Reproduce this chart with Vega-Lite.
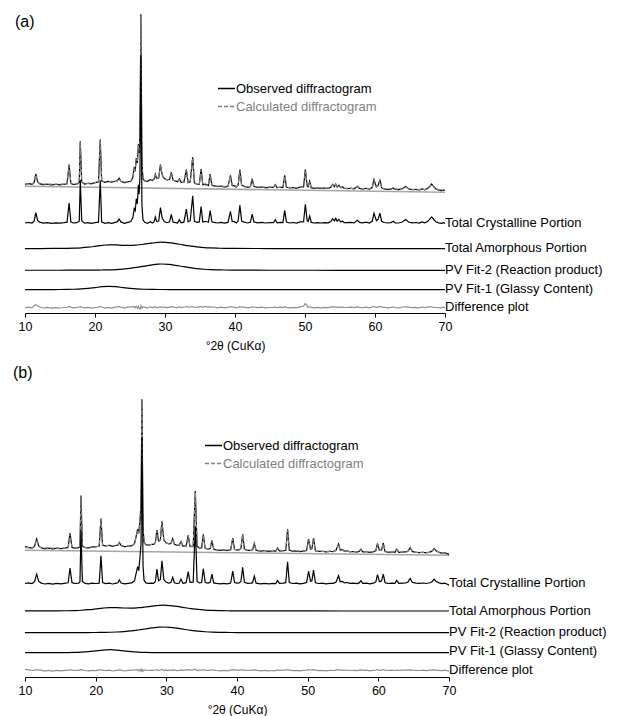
{
"$schema": "https://vega.github.io/schema/vega-lite/v6.json",
"padding": {"left": 13, "top": 11, "right": 0, "bottom": 0},
"config": {
 "font": "Liberation Sans",
 "view": {"stroke": null},
 "axisX": {"tickSize": 4, "labelPadding": 3, "titlePadding": 8, "labelFlush": false, "labelOverlap": false, "labelFontSize": 12.5, "titleFontSize": 12, "titleFontWeight": "normal", "domainColor": "#000000", "tickColor": "#000000", "labelColor": "#000000", "titleColor": "#000000", "grid": false, "labelFont": "Liberation Sans", "titleFont": "Liberation Sans"},
 "title": {"fontSize": 16, "fontWeight": "normal", "color": "#000000", "font": "Liberation Sans"}
},
"spacing": 13,
"resolve": {"scale": {"color": "independent", "strokeDash": "independent"}, "legend": {"color": "independent", "strokeDash": "independent"}},
"datasets": {
 "a_main": [
{"t":10.0,"obs":128.7,"calc":129.2,"cryst":90.0,"diff":5.2},
{"t":10.5,"obs":129.4,"calc":129.2,"cryst":90.7,"diff":5.9},
{"t":11.0,"obs":128.6,"calc":129.1,"cryst":90.0,"diff":5.2},
{"t":11.3,"obs":130.5,"calc":130.3,"cryst":91.9,"diff":7.5},
{"t":11.55,"obs":139.0,"calc":138.0,"cryst":100.4,"diff":8.4},
{"t":11.8,"obs":131.2,"calc":131.0,"cryst":92.6,"diff":6.9},
{"t":12.1,"obs":129.3,"calc":129.0,"cryst":90.8,"diff":6.0},
{"t":12.6,"obs":128.3,"calc":129.0,"cryst":89.8,"diff":5.0},
{"t":13.2,"obs":128.8,"calc":128.9,"cryst":90.4,"diff":5.6},
{"t":13.8,"obs":128.1,"calc":128.9,"cryst":89.7,"diff":4.9},
{"t":14.4,"obs":128.6,"calc":128.9,"cryst":90.2,"diff":5.4},
{"t":15.0,"obs":128.2,"calc":128.9,"cryst":89.8,"diff":5.0},
{"t":15.6,"obs":128.7,"calc":128.9,"cryst":90.3,"diff":5.5},
{"t":16.0,"obs":129.2,"calc":129.2,"cryst":90.8,"diff":5.7},
{"t":16.3,"obs":148.4,"calc":147.6,"cryst":110.0,"diff":6.5},
{"t":16.55,"obs":129.6,"calc":129.4,"cryst":91.2,"diff":5.9},
{"t":16.9,"obs":128.5,"calc":129.0,"cryst":90.0,"diff":5.2},
{"t":17.4,"obs":128.9,"calc":129.0,"cryst":90.3,"diff":5.6},
{"t":17.75,"obs":130.5,"calc":130.2,"cryst":91.8,"diff":6.0},
{"t":17.9,"obs":171.7,"calc":171.0,"cryst":133.0,"diff":6.4},
{"t":18.1,"obs":131.0,"calc":130.8,"cryst":92.2,"diff":5.9},
{"t":18.5,"obs":128.9,"calc":129.5,"cryst":89.9,"diff":5.1},
{"t":19.0,"obs":129.6,"calc":129.7,"cryst":90.4,"diff":5.6},
{"t":19.5,"obs":129.2,"calc":130.1,"cryst":89.6,"diff":4.8},
{"t":20.0,"obs":130.3,"calc":130.5,"cryst":90.3,"diff":5.5},
{"t":20.5,"obs":131.2,"calc":131.0,"cryst":90.8,"diff":5.9},
{"t":20.75,"obs":173.4,"calc":172.6,"cryst":132.8,"diff":6.5},
{"t":20.95,"obs":132.0,"calc":131.7,"cryst":91.2,"diff":6.0},
{"t":21.4,"obs":130.7,"calc":131.5,"cryst":89.7,"diff":4.9},
{"t":21.9,"obs":131.6,"calc":131.7,"cryst":90.4,"diff":5.6},
{"t":22.4,"obs":130.9,"calc":131.7,"cryst":89.7,"diff":4.9},
{"t":22.9,"obs":131.8,"calc":131.6,"cryst":90.7,"diff":5.9},
{"t":23.2,"obs":132.3,"calc":131.9,"cryst":91.3,"diff":6.1},
{"t":23.45,"obs":134.8,"calc":134.2,"cryst":93.9,"diff":6.3},
{"t":23.7,"obs":131.9,"calc":131.6,"cryst":91.1,"diff":6.0},
{"t":24.2,"obs":130.3,"calc":131.1,"cryst":89.7,"diff":4.9},
{"t":24.7,"obs":131.1,"calc":130.9,"cryst":90.7,"diff":5.9},
{"t":25.1,"obs":131.8,"calc":131.3,"cryst":91.4,"diff":6.2},
{"t":25.4,"obs":135.5,"calc":135.0,"cryst":95.0,"diff":6.2},
{"t":25.6,"obs":145.0,"calc":144.0,"cryst":104.4,"diff":6.7},
{"t":25.75,"obs":143.0,"calc":143.5,"cryst":102.4,"diff":5.2},
{"t":25.9,"obs":155.0,"calc":154.0,"cryst":114.3,"diff":6.7},
{"t":26.05,"obs":150.0,"calc":151.0,"cryst":109.2,"diff":4.7},
{"t":26.2,"obs":169.0,"calc":168.0,"cryst":128.1,"diff":6.7},
{"t":26.3,"obs":160.0,"calc":161.0,"cryst":119.1,"diff":4.7},
{"t":26.42,"obs":178.0,"calc":180.0,"cryst":137.0,"diff":3.7},
{"t":26.56,"obs":298.7,"calc":297.0,"cryst":257.6,"diff":7.4},
{"t":26.7,"obs":150.0,"calc":151.0,"cryst":108.8,"diff":4.7},
{"t":26.85,"obs":134.5,"calc":134.0,"cryst":93.2,"diff":6.2},
{"t":27.1,"obs":132.2,"calc":132.0,"cryst":90.7,"diff":5.9},
{"t":27.5,"obs":131.5,"calc":132.3,"cryst":89.6,"diff":4.9},
{"t":27.9,"obs":133.5,"calc":132.9,"cryst":91.3,"diff":6.3},
{"t":28.2,"obs":132.4,"calc":133.0,"cryst":89.9,"diff":5.1},
{"t":28.45,"obs":134.0,"calc":133.8,"cryst":91.3,"diff":5.9},
{"t":28.62,"obs":138.7,"calc":138.0,"cryst":95.9,"diff":6.4},
{"t":28.8,"obs":134.5,"calc":134.6,"cryst":91.6,"diff":5.6},
{"t":29.1,"obs":135.0,"calc":135.3,"cryst":92.0,"diff":5.4},
{"t":29.35,"obs":148.4,"calc":147.8,"cryst":105.3,"diff":6.3},
{"t":29.6,"obs":138.0,"calc":138.4,"cryst":94.9,"diff":5.3},
{"t":29.9,"obs":134.5,"calc":134.3,"cryst":91.5,"diff":5.9},
{"t":30.3,"obs":133.0,"calc":133.3,"cryst":90.3,"diff":5.4},
{"t":30.65,"obs":133.6,"calc":133.5,"cryst":91.1,"diff":5.8},
{"t":30.9,"obs":140.7,"calc":140.0,"cryst":98.5,"diff":6.4},
{"t":31.15,"obs":132.8,"calc":132.6,"cryst":90.9,"diff":5.9},
{"t":31.5,"obs":132.0,"calc":132.1,"cryst":90.4,"diff":5.6},
{"t":31.8,"obs":131.2,"calc":131.7,"cryst":90.0,"diff":5.2},
{"t":32.05,"obs":134.0,"calc":133.5,"cryst":93.2,"diff":6.2},
{"t":32.3,"obs":130.6,"calc":131.0,"cryst":90.1,"diff":5.3},
{"t":32.7,"obs":130.8,"calc":130.5,"cryst":90.8,"diff":6.0},
{"t":33.05,"obs":143.4,"calc":142.6,"cryst":103.8,"diff":6.5},
{"t":33.3,"obs":130.4,"calc":130.2,"cryst":91.1,"diff":5.9},
{"t":33.6,"obs":131.2,"calc":130.9,"cryst":92.3,"diff":6.0},
{"t":33.96,"obs":155.7,"calc":154.8,"cryst":117.2,"diff":6.6},
{"t":34.2,"obs":130.0,"calc":130.2,"cryst":91.7,"diff":5.5},
{"t":34.6,"obs":128.6,"calc":128.5,"cryst":90.7,"diff":5.8},
{"t":34.9,"obs":128.8,"calc":128.6,"cryst":91.1,"diff":5.9},
{"t":35.16,"obs":144.0,"calc":143.2,"cryst":106.5,"diff":6.5},
{"t":35.4,"obs":128.3,"calc":128.4,"cryst":91.0,"diff":5.6},
{"t":35.8,"obs":128.8,"calc":128.0,"cryst":91.7,"diff":6.5},
{"t":36.2,"obs":127.5,"calc":127.6,"cryst":90.7,"diff":5.6},
{"t":36.45,"obs":139.0,"calc":138.4,"cryst":102.3,"diff":6.3},
{"t":36.7,"obs":127.8,"calc":127.5,"cryst":91.2,"diff":6.0},
{"t":37.0,"obs":127.2,"calc":127.1,"cryst":90.7,"diff":5.8},
{"t":37.5,"obs":126.4,"calc":126.9,"cryst":90.0,"diff":5.2},
{"t":38.0,"obs":126.9,"calc":126.8,"cryst":90.7,"diff":5.8},
{"t":38.5,"obs":126.0,"calc":126.6,"cryst":89.9,"diff":5.1},
{"t":39.0,"obs":126.6,"calc":126.6,"cryst":90.6,"diff":5.7},
{"t":39.35,"obs":137.7,"calc":137.0,"cryst":101.7,"diff":6.4},
{"t":39.6,"obs":127.5,"calc":127.3,"cryst":91.5,"diff":5.9},
{"t":39.9,"obs":127.2,"calc":127.0,"cryst":91.3,"diff":5.9},
{"t":40.2,"obs":126.0,"calc":126.5,"cryst":90.1,"diff":5.2},
{"t":40.45,"obs":128.0,"calc":128.0,"cryst":92.2,"diff":5.7},
{"t":40.7,"obs":143.4,"calc":142.7,"cryst":107.6,"diff":6.4},
{"t":40.95,"obs":127.8,"calc":127.7,"cryst":92.0,"diff":5.8},
{"t":41.3,"obs":126.6,"calc":126.4,"cryst":90.9,"diff":5.9},
{"t":41.8,"obs":125.7,"calc":126.2,"cryst":90.0,"diff":5.2},
{"t":42.2,"obs":126.3,"calc":126.3,"cryst":90.7,"diff":5.7},
{"t":42.45,"obs":134.4,"calc":133.9,"cryst":98.8,"diff":6.2},
{"t":42.7,"obs":126.6,"calc":126.3,"cryst":91.1,"diff":6.0},
{"t":43.2,"obs":125.6,"calc":126.0,"cryst":90.1,"diff":5.3},
{"t":43.8,"obs":126.0,"calc":125.9,"cryst":90.6,"diff":5.8},
{"t":44.4,"obs":125.3,"calc":125.8,"cryst":90.0,"diff":5.2},
{"t":45.0,"obs":125.6,"calc":125.8,"cryst":90.3,"diff":5.5},
{"t":45.5,"obs":125.5,"calc":125.7,"cryst":90.3,"diff":5.5},
{"t":45.75,"obs":128.4,"calc":128.0,"cryst":93.2,"diff":6.1},
{"t":46.0,"obs":125.3,"calc":125.7,"cryst":90.1,"diff":5.3},
{"t":46.5,"obs":125.8,"calc":125.6,"cryst":90.7,"diff":5.9},
{"t":46.85,"obs":125.6,"calc":125.9,"cryst":90.5,"diff":5.4},
{"t":47.1,"obs":137.7,"calc":137.0,"cryst":102.7,"diff":6.4},
{"t":47.35,"obs":125.9,"calc":125.9,"cryst":90.9,"diff":5.7},
{"t":47.8,"obs":125.0,"calc":125.5,"cryst":90.0,"diff":5.2},
{"t":48.3,"obs":125.4,"calc":125.4,"cryst":90.5,"diff":5.7},
{"t":48.8,"obs":124.8,"calc":125.4,"cryst":89.9,"diff":5.1},
{"t":49.3,"obs":125.9,"calc":125.5,"cryst":91.1,"diff":6.1},
{"t":49.8,"obs":126.2,"calc":126.0,"cryst":91.4,"diff":7.0},
{"t":50.05,"obs":143.4,"calc":141.6,"cryst":108.7,"diff":9.5},
{"t":50.3,"obs":127.5,"calc":127.0,"cryst":92.8,"diff":7.5},
{"t":50.45,"obs":126.2,"calc":126.4,"cryst":91.5,"diff":5.5},
{"t":50.67,"obs":131.7,"calc":131.0,"cryst":97.0,"diff":6.4},
{"t":50.9,"obs":125.2,"calc":125.3,"cryst":90.6,"diff":5.6},
{"t":51.3,"obs":124.6,"calc":125.1,"cryst":90.0,"diff":5.2},
{"t":51.8,"obs":125.0,"calc":125.0,"cryst":90.4,"diff":5.7},
{"t":52.3,"obs":124.5,"calc":125.0,"cryst":90.0,"diff":5.2},
{"t":52.8,"obs":124.9,"calc":124.9,"cryst":90.4,"diff":5.7},
{"t":53.3,"obs":124.5,"calc":124.9,"cryst":90.1,"diff":5.3},
{"t":53.7,"obs":125.8,"calc":125.6,"cryst":91.4,"diff":5.9},
{"t":53.95,"obs":128.6,"calc":128.0,"cryst":94.3,"diff":6.3},
{"t":54.2,"obs":126.4,"calc":126.5,"cryst":92.1,"diff":5.6},
{"t":54.4,"obs":128.9,"calc":128.4,"cryst":94.6,"diff":6.2},
{"t":54.6,"obs":126.0,"calc":126.3,"cryst":91.7,"diff":5.4},
{"t":54.85,"obs":127.8,"calc":127.4,"cryst":93.6,"diff":6.1},
{"t":55.1,"obs":125.2,"calc":125.5,"cryst":91.0,"diff":5.4},
{"t":55.35,"obs":126.2,"calc":125.8,"cryst":92.0,"diff":6.1},
{"t":55.6,"obs":124.6,"calc":124.8,"cryst":90.4,"diff":5.5},
{"t":56.0,"obs":124.4,"calc":124.6,"cryst":90.3,"diff":5.5},
{"t":56.5,"obs":124.7,"calc":124.6,"cryst":90.6,"diff":5.8},
{"t":57.0,"obs":124.1,"calc":124.5,"cryst":90.1,"diff":5.3},
{"t":57.5,"obs":126.7,"calc":126.3,"cryst":92.7,"diff":6.1},
{"t":57.8,"obs":124.5,"calc":124.5,"cryst":90.6,"diff":5.7},
{"t":58.2,"obs":124.0,"calc":124.4,"cryst":90.1,"diff":5.3},
{"t":58.7,"obs":124.6,"calc":124.4,"cryst":90.8,"diff":5.9},
{"t":59.2,"obs":123.8,"calc":124.3,"cryst":90.0,"diff":5.2},
{"t":59.6,"obs":125.5,"calc":125.3,"cryst":91.7,"diff":5.9},
{"t":59.85,"obs":133.4,"calc":132.4,"cryst":99.7,"diff":6.7},
{"t":60.2,"obs":126.0,"calc":126.2,"cryst":92.3,"diff":5.5},
{"t":60.45,"obs":127.6,"calc":127.2,"cryst":93.9,"diff":6.1},
{"t":60.7,"obs":133.4,"calc":132.6,"cryst":99.8,"diff":6.5},
{"t":60.95,"obs":125.2,"calc":125.1,"cryst":91.6,"diff":5.8},
{"t":61.3,"obs":124.1,"calc":124.1,"cryst":90.5,"diff":5.7},
{"t":61.8,"obs":123.5,"calc":124.0,"cryst":90.0,"diff":5.2},
{"t":62.3,"obs":123.9,"calc":124.0,"cryst":90.4,"diff":5.6},
{"t":62.6,"obs":125.1,"calc":124.8,"cryst":91.7,"diff":6.0},
{"t":62.9,"obs":123.6,"calc":123.9,"cryst":90.2,"diff":5.4},
{"t":63.4,"obs":123.4,"calc":123.9,"cryst":90.0,"diff":5.2},
{"t":63.9,"obs":124.3,"calc":124.0,"cryst":91.0,"diff":6.0},
{"t":64.4,"obs":126.7,"calc":126.2,"cryst":93.4,"diff":6.2},
{"t":64.8,"obs":124.2,"calc":124.1,"cryst":91.0,"diff":5.8},
{"t":65.3,"obs":123.3,"calc":123.7,"cryst":90.1,"diff":5.3},
{"t":65.8,"obs":123.6,"calc":123.6,"cryst":90.5,"diff":5.7},
{"t":66.3,"obs":123.0,"calc":123.5,"cryst":89.9,"diff":5.2},
{"t":66.7,"obs":124.0,"calc":123.7,"cryst":91.0,"diff":6.0},
{"t":67.1,"obs":123.2,"calc":123.5,"cryst":90.2,"diff":5.4},
{"t":67.5,"obs":124.5,"calc":124.3,"cryst":91.5,"diff":5.9},
{"t":67.8,"obs":126.5,"calc":126.0,"cryst":93.6,"diff":6.2},
{"t":68.1,"obs":129.0,"calc":128.6,"cryst":96.1,"diff":6.1},
{"t":68.4,"obs":126.4,"calc":126.6,"cryst":93.5,"diff":5.5},
{"t":68.7,"obs":124.0,"calc":124.2,"cryst":91.2,"diff":5.5},
{"t":69.1,"obs":123.0,"calc":123.3,"cryst":90.2,"diff":5.4},
{"t":69.5,"obs":122.4,"calc":123.0,"cryst":89.6,"diff":5.1},
{"t":69.8,"obs":123.1,"calc":123.0,"cryst":90.4,"diff":5.8},
{"t":70.0,"obs":122.3,"calc":122.8,"cryst":89.6,"diff":5.2}
 ],
 "b_main": [
{"t":10.0,"obs":130.5,"calc":129.5,"cryst":93.5,"diff":7.7},
{"t":10.5,"obs":129.6,"calc":129.2,"cryst":94.2,"diff":7.1},
{"t":11.0,"obs":128.9,"calc":129.1,"cryst":93.5,"diff":6.5},
{"t":11.35,"obs":130.6,"calc":130.4,"cryst":95.3,"diff":6.9},
{"t":11.65,"obs":138.1,"calc":137.4,"cryst":102.8,"diff":7.4},
{"t":11.95,"obs":130.9,"calc":130.7,"cryst":95.6,"diff":6.9},
{"t":12.3,"obs":129.2,"calc":129.0,"cryst":93.9,"diff":6.9},
{"t":12.8,"obs":128.2,"calc":129.0,"cryst":93.0,"diff":5.9},
{"t":13.3,"obs":128.9,"calc":129.0,"cryst":93.7,"diff":6.6},
{"t":13.9,"obs":128.1,"calc":129.0,"cryst":92.9,"diff":5.8},
{"t":14.5,"obs":128.8,"calc":128.9,"cryst":93.6,"diff":6.6},
{"t":15.1,"obs":128.3,"calc":128.9,"cryst":93.1,"diff":6.1},
{"t":15.7,"obs":128.9,"calc":128.9,"cryst":93.8,"diff":6.7},
{"t":16.1,"obs":129.4,"calc":129.3,"cryst":94.2,"diff":6.8},
{"t":16.37,"obs":144.0,"calc":143.3,"cryst":108.8,"diff":7.4},
{"t":16.65,"obs":129.5,"calc":129.4,"cryst":94.3,"diff":6.8},
{"t":17.1,"obs":128.8,"calc":129.0,"cryst":93.5,"diff":6.5},
{"t":17.6,"obs":129.3,"calc":129.1,"cryst":93.9,"diff":6.9},
{"t":17.78,"obs":130.7,"calc":130.5,"cryst":95.3,"diff":6.9},
{"t":17.92,"obs":181.5,"calc":180.6,"cryst":146.0,"diff":7.6},
{"t":18.12,"obs":131.0,"calc":130.8,"cryst":95.5,"diff":6.9},
{"t":18.5,"obs":129.3,"calc":129.5,"cryst":93.6,"diff":6.5},
{"t":19.0,"obs":129.1,"calc":129.7,"cryst":93.2,"diff":6.1},
{"t":19.5,"obs":130.1,"calc":130.1,"cryst":93.8,"diff":6.7},
{"t":20.0,"obs":130.1,"calc":130.4,"cryst":93.5,"diff":6.4},
{"t":20.5,"obs":130.9,"calc":130.8,"cryst":93.9,"diff":6.8},
{"t":20.75,"obs":158.5,"calc":157.8,"cryst":121.3,"diff":7.4},
{"t":20.98,"obs":131.8,"calc":131.6,"cryst":94.4,"diff":6.9},
{"t":21.4,"obs":131.0,"calc":131.4,"cryst":93.4,"diff":6.3},
{"t":21.9,"obs":131.7,"calc":131.6,"cryst":93.9,"diff":6.8},
{"t":22.4,"obs":130.8,"calc":131.5,"cryst":93.0,"diff":6.0},
{"t":22.9,"obs":131.5,"calc":131.5,"cryst":93.8,"diff":6.7},
{"t":23.15,"obs":131.8,"calc":131.6,"cryst":94.2,"diff":6.9},
{"t":23.35,"obs":134.6,"calc":134.1,"cryst":97.0,"diff":7.2},
{"t":23.6,"obs":131.5,"calc":131.3,"cryst":94.0,"diff":6.9},
{"t":24.1,"obs":130.3,"calc":131.0,"cryst":93.1,"diff":6.0},
{"t":24.6,"obs":130.8,"calc":130.9,"cryst":93.7,"diff":6.6},
{"t":25.1,"obs":131.2,"calc":131.0,"cryst":94.1,"diff":6.9},
{"t":25.5,"obs":133.5,"calc":133.2,"cryst":96.3,"diff":7.0},
{"t":25.7,"obs":140.0,"calc":139.5,"cryst":102.8,"diff":7.2},
{"t":25.94,"obs":147.6,"calc":147.0,"cryst":110.3,"diff":7.3},
{"t":26.1,"obs":143.7,"calc":144.2,"cryst":106.3,"diff":6.2},
{"t":26.3,"obs":159.8,"calc":159.0,"cryst":122.3,"diff":7.5},
{"t":26.42,"obs":170.9,"calc":172.0,"cryst":133.3,"diff":5.6},
{"t":26.55,"obs":277.8,"calc":276.5,"cryst":240.1,"diff":8.0},
{"t":26.7,"obs":149.1,"calc":150.0,"cryst":111.3,"diff":5.8},
{"t":26.85,"obs":134.7,"calc":134.4,"cryst":96.8,"diff":7.0},
{"t":27.1,"obs":132.2,"calc":132.0,"cryst":94.1,"diff":6.9},
{"t":27.5,"obs":131.9,"calc":132.1,"cryst":93.6,"diff":6.5},
{"t":27.9,"obs":132.6,"calc":132.5,"cryst":93.9,"diff":6.8},
{"t":28.2,"obs":132.6,"calc":132.7,"cryst":93.7,"diff":6.6},
{"t":28.45,"obs":134.6,"calc":134.3,"cryst":95.5,"diff":7.0},
{"t":28.67,"obs":147.0,"calc":146.3,"cryst":107.8,"diff":7.4},
{"t":28.9,"obs":135.7,"calc":135.9,"cryst":96.3,"diff":6.5},
{"t":29.15,"obs":136.8,"calc":136.5,"cryst":97.3,"diff":7.0},
{"t":29.38,"obs":155.8,"calc":155.0,"cryst":116.3,"diff":7.5},
{"t":29.65,"obs":136.9,"calc":137.2,"cryst":97.3,"diff":6.4},
{"t":29.95,"obs":134.3,"calc":134.1,"cryst":94.9,"diff":6.9},
{"t":30.35,"obs":133.1,"calc":133.2,"cryst":93.9,"diff":6.6},
{"t":30.65,"obs":133.5,"calc":133.3,"cryst":94.5,"diff":6.9},
{"t":30.9,"obs":138.3,"calc":137.8,"cryst":99.6,"diff":7.2},
{"t":31.15,"obs":132.7,"calc":132.5,"cryst":94.2,"diff":6.9},
{"t":31.5,"obs":131.7,"calc":132.0,"cryst":93.5,"diff":6.4},
{"t":31.8,"obs":131.5,"calc":131.6,"cryst":93.7,"diff":6.6},
{"t":32.07,"obs":135.4,"calc":135.0,"cryst":97.9,"diff":7.1},
{"t":32.35,"obs":130.9,"calc":131.0,"cryst":93.7,"diff":6.6},
{"t":32.8,"obs":130.9,"calc":130.5,"cryst":94.3,"diff":7.1},
{"t":33.1,"obs":141.6,"calc":141.0,"cryst":105.3,"diff":7.3},
{"t":33.35,"obs":130.6,"calc":130.4,"cryst":94.6,"diff":6.9},
{"t":33.8,"obs":130.5,"calc":130.1,"cryst":94.9,"diff":7.1},
{"t":34.1,"obs":186.0,"calc":184.8,"cryst":150.7,"diff":7.9},
{"t":34.35,"obs":130.7,"calc":130.9,"cryst":95.6,"diff":6.5},
{"t":34.7,"obs":128.9,"calc":128.8,"cryst":94.1,"diff":6.8},
{"t":35.0,"obs":129.1,"calc":128.9,"cryst":94.5,"diff":6.9},
{"t":35.23,"obs":142.7,"calc":142.1,"cryst":108.3,"diff":7.3},
{"t":35.5,"obs":128.6,"calc":128.4,"cryst":94.4,"diff":6.9},
{"t":35.9,"obs":127.9,"calc":127.9,"cryst":93.9,"diff":6.7},
{"t":36.2,"obs":128.5,"calc":128.2,"cryst":94.6,"diff":7.0},
{"t":36.45,"obs":136.6,"calc":136.1,"cryst":102.8,"diff":7.2},
{"t":36.7,"obs":127.8,"calc":127.6,"cryst":94.1,"diff":6.9},
{"t":37.1,"obs":127.2,"calc":127.4,"cryst":93.6,"diff":6.5},
{"t":37.6,"obs":126.6,"calc":127.2,"cryst":93.1,"diff":6.1},
{"t":38.1,"obs":127.1,"calc":127.1,"cryst":93.7,"diff":6.7},
{"t":38.6,"obs":126.5,"calc":127.0,"cryst":93.2,"diff":6.2},
{"t":39.1,"obs":127.1,"calc":127.0,"cryst":94.0,"diff":6.8},
{"t":39.4,"obs":138.9,"calc":138.3,"cryst":105.8,"diff":7.3},
{"t":39.65,"obs":127.6,"calc":127.4,"cryst":94.5,"diff":6.9},
{"t":40.0,"obs":127.0,"calc":126.9,"cryst":93.9,"diff":6.8},
{"t":40.3,"obs":127.1,"calc":127.0,"cryst":94.1,"diff":6.8},
{"t":40.55,"obs":128.5,"calc":128.4,"cryst":95.5,"diff":6.8},
{"t":40.8,"obs":142.6,"calc":141.9,"cryst":109.6,"diff":7.4},
{"t":41.05,"obs":127.7,"calc":127.5,"cryst":94.7,"diff":6.9},
{"t":41.5,"obs":126.5,"calc":126.7,"cryst":93.6,"diff":6.5},
{"t":42.0,"obs":126.8,"calc":126.7,"cryst":93.9,"diff":6.8},
{"t":42.2,"obs":127.1,"calc":127.0,"cryst":94.3,"diff":6.8},
{"t":42.45,"obs":133.6,"calc":133.1,"cryst":100.8,"diff":7.2},
{"t":42.7,"obs":126.7,"calc":126.6,"cryst":93.9,"diff":6.8},
{"t":43.3,"obs":125.9,"calc":126.5,"cryst":93.2,"diff":6.1},
{"t":43.9,"obs":126.3,"calc":126.4,"cryst":93.7,"diff":6.6},
{"t":44.5,"obs":125.7,"calc":126.3,"cryst":93.1,"diff":6.1},
{"t":45.1,"obs":126.1,"calc":126.3,"cryst":93.6,"diff":6.5},
{"t":45.5,"obs":125.9,"calc":126.2,"cryst":93.4,"diff":6.4},
{"t":45.74,"obs":129.0,"calc":128.6,"cryst":96.5,"diff":7.1},
{"t":46.0,"obs":126.1,"calc":126.2,"cryst":93.6,"diff":6.6},
{"t":46.5,"obs":126.3,"calc":126.2,"cryst":93.9,"diff":6.8},
{"t":46.9,"obs":126.7,"calc":126.6,"cryst":94.3,"diff":6.8},
{"t":47.16,"obs":147.7,"calc":146.8,"cryst":115.3,"diff":7.6},
{"t":47.4,"obs":126.8,"calc":126.7,"cryst":94.5,"diff":6.8},
{"t":47.9,"obs":125.8,"calc":126.1,"cryst":93.5,"diff":6.4},
{"t":48.4,"obs":126.0,"calc":126.0,"cryst":93.8,"diff":6.7},
{"t":48.9,"obs":125.4,"calc":126.0,"cryst":93.2,"diff":6.1},
{"t":49.4,"obs":125.9,"calc":125.9,"cryst":93.7,"diff":6.7},
{"t":49.85,"obs":126.6,"calc":126.4,"cryst":94.5,"diff":6.9},
{"t":50.13,"obs":137.9,"calc":137.2,"cryst":105.8,"diff":7.4},
{"t":50.4,"obs":127.9,"calc":127.6,"cryst":95.8,"diff":7.0},
{"t":50.6,"obs":128.4,"calc":128.2,"cryst":96.3,"diff":6.9},
{"t":50.83,"obs":139.0,"calc":138.3,"cryst":106.9,"diff":7.4},
{"t":51.1,"obs":126.2,"calc":126.0,"cryst":94.2,"diff":6.9},
{"t":51.6,"obs":125.5,"calc":125.8,"cryst":93.5,"diff":6.4},
{"t":52.1,"obs":125.7,"calc":125.7,"cryst":93.8,"diff":6.7},
{"t":52.6,"obs":125.1,"calc":125.7,"cryst":93.2,"diff":6.1},
{"t":53.1,"obs":125.6,"calc":125.6,"cryst":93.7,"diff":6.7},
{"t":53.6,"obs":125.4,"calc":125.6,"cryst":93.6,"diff":6.5},
{"t":54.0,"obs":126.6,"calc":126.4,"cryst":94.8,"diff":6.9},
{"t":54.37,"obs":133.1,"calc":132.5,"cryst":101.3,"diff":7.3},
{"t":54.6,"obs":127.0,"calc":126.8,"cryst":95.3,"diff":6.9},
{"t":54.9,"obs":127.4,"calc":127.1,"cryst":95.7,"diff":7.0},
{"t":55.2,"obs":125.8,"calc":125.8,"cryst":94.1,"diff":6.7},
{"t":55.6,"obs":126.1,"calc":125.8,"cryst":94.5,"diff":7.0},
{"t":56.0,"obs":125.2,"calc":125.4,"cryst":93.6,"diff":6.5},
{"t":56.5,"obs":125.4,"calc":125.4,"cryst":93.8,"diff":6.7},
{"t":57.0,"obs":124.9,"calc":125.3,"cryst":93.4,"diff":6.3},
{"t":57.3,"obs":125.6,"calc":125.5,"cryst":94.1,"diff":6.8},
{"t":57.52,"obs":127.8,"calc":127.4,"cryst":96.3,"diff":7.1},
{"t":57.8,"obs":125.1,"calc":125.2,"cryst":93.6,"diff":6.6},
{"t":58.3,"obs":125.3,"calc":125.2,"cryst":93.9,"diff":6.8},
{"t":58.8,"obs":124.6,"calc":125.1,"cryst":93.2,"diff":6.2},
{"t":59.3,"obs":125.1,"calc":125.1,"cryst":93.8,"diff":6.7},
{"t":59.65,"obs":126.4,"calc":126.2,"cryst":95.1,"diff":6.9},
{"t":59.88,"obs":133.6,"calc":132.9,"cryst":102.3,"diff":7.4},
{"t":60.15,"obs":126.6,"calc":126.6,"cryst":95.3,"diff":6.7},
{"t":60.45,"obs":127.1,"calc":126.9,"cryst":95.9,"diff":6.9},
{"t":60.7,"obs":134.0,"calc":133.3,"cryst":102.8,"diff":7.4},
{"t":60.95,"obs":125.5,"calc":125.4,"cryst":94.3,"diff":6.8},
{"t":61.4,"obs":124.7,"calc":124.9,"cryst":93.5,"diff":6.5},
{"t":61.9,"obs":125.0,"calc":124.9,"cryst":93.9,"diff":6.8},
{"t":62.35,"obs":124.7,"calc":124.9,"cryst":93.6,"diff":6.5},
{"t":62.6,"obs":127.8,"calc":127.3,"cryst":96.7,"diff":7.2},
{"t":62.9,"obs":124.6,"calc":124.8,"cryst":93.6,"diff":6.5},
{"t":63.4,"obs":124.9,"calc":124.8,"cryst":93.9,"diff":6.8},
{"t":63.9,"obs":125.2,"calc":125.0,"cryst":94.2,"diff":6.9},
{"t":64.2,"obs":125.8,"calc":125.6,"cryst":94.9,"diff":6.9},
{"t":64.5,"obs":129.4,"calc":128.9,"cryst":98.5,"diff":7.2},
{"t":64.8,"obs":125.6,"calc":125.5,"cryst":94.7,"diff":6.8},
{"t":65.3,"obs":124.6,"calc":124.6,"cryst":93.8,"diff":6.7},
{"t":65.8,"obs":124.4,"calc":124.6,"cryst":93.6,"diff":6.5},
{"t":66.3,"obs":124.7,"calc":124.5,"cryst":94.0,"diff":6.9},
{"t":66.8,"obs":124.2,"calc":124.5,"cryst":93.5,"diff":6.4},
{"t":67.3,"obs":124.9,"calc":124.7,"cryst":94.2,"diff":6.9},
{"t":67.6,"obs":125.9,"calc":125.7,"cryst":95.3,"diff":6.9},
{"t":67.9,"obs":128.4,"calc":127.9,"cryst":97.8,"diff":7.2},
{"t":68.2,"obs":126.1,"calc":126.0,"cryst":95.5,"diff":6.8},
{"t":68.6,"obs":124.6,"calc":124.7,"cryst":94.1,"diff":6.6},
{"t":69.0,"obs":123.9,"calc":124.3,"cryst":93.4,"diff":6.3},
{"t":69.4,"obs":124.4,"calc":124.2,"cryst":93.9,"diff":6.9},
{"t":69.7,"obs":123.5,"calc":123.9,"cryst":93.0,"diff":6.3},
{"t":70.0,"obs":122.3,"calc":123.2,"cryst":91.9,"diff":5.8}
 ],
 "a_am": [
{"t":10,"amor":64.43,"pv2":42.73,"pv1":23.4},
{"t":14,"amor":64.53,"pv2":42.76,"pv1":23.47},
{"t":16,"amor":64.66,"pv2":42.79,"pv1":23.57},
{"t":17,"amor":64.86,"pv2":42.83,"pv1":23.73},
{"t":18,"amor":65.22,"pv2":42.86,"pv1":24.06},
{"t":19,"amor":65.81,"pv2":42.89,"pv1":24.62},
{"t":20,"amor":66.67,"pv2":42.92,"pv1":25.45},
{"t":21,"amor":67.62,"pv2":43.02,"pv1":26.3},
{"t":22,"amor":68.17,"pv2":43.17,"pv1":26.7},
{"t":23,"amor":68.06,"pv2":43.46,"pv1":26.3},
{"t":24,"amor":67.71,"pv2":43.96,"pv1":25.45},
{"t":25,"amor":67.57,"pv2":44.65,"pv1":24.62},
{"t":26,"amor":68.02,"pv2":45.66,"pv1":24.06},
{"t":27,"amor":68.83,"pv2":46.8,"pv1":23.73},
{"t":28,"amor":69.8,"pv2":47.93,"pv1":23.57},
{"t":29,"amor":70.63,"pv2":48.81,"pv1":23.52},
{"t":29.6,"amor":70.8,"pv2":49.0,"pv1":23.5},
{"t":30.5,"amor":70.39,"pv2":48.62,"pv1":23.47},
{"t":31.5,"amor":69.43,"pv2":47.68,"pv1":23.45},
{"t":32.5,"amor":68.21,"pv2":46.48,"pv1":23.43},
{"t":33.5,"amor":67.07,"pv2":45.35,"pv1":23.42},
{"t":34.5,"amor":66.11,"pv2":44.4,"pv1":23.41},
{"t":35.5,"amor":65.47,"pv2":43.77,"pv1":23.41},
{"t":36.5,"amor":65.03,"pv2":43.33,"pv1":23.4},
{"t":37.5,"amor":64.81,"pv2":43.11,"pv1":23.4},
{"t":38.5,"amor":64.68,"pv2":42.98,"pv1":23.4},
{"t":40,"amor":64.59,"pv2":42.89,"pv1":23.4},
{"t":43,"amor":64.5,"pv2":42.8,"pv1":23.4},
{"t":47,"amor":64.45,"pv2":42.75,"pv1":23.4},
{"t":55,"amor":64.42,"pv2":42.72,"pv1":23.4},
{"t":70,"amor":64.4,"pv2":42.7,"pv1":23.4}
 ],
 "b_am": [
{"t":10,"amor":66.03,"pv2":44.33,"pv1":24.3},
{"t":14,"amor":66.12,"pv2":44.36,"pv1":24.36},
{"t":16,"amor":66.24,"pv2":44.39,"pv1":24.45},
{"t":17,"amor":66.41,"pv2":44.41,"pv1":24.6},
{"t":18,"amor":66.74,"pv2":44.44,"pv1":24.9},
{"t":19,"amor":67.28,"pv2":44.47,"pv1":25.41},
{"t":20,"amor":68.06,"pv2":44.5,"pv1":26.16},
{"t":21,"amor":68.93,"pv2":44.59,"pv1":26.94},
{"t":22,"amor":69.43,"pv2":44.73,"pv1":27.3},
{"t":23,"amor":69.32,"pv2":44.98,"pv1":26.94},
{"t":24,"amor":69.0,"pv2":45.44,"pv1":26.16},
{"t":25,"amor":68.88,"pv2":46.07,"pv1":25.41},
{"t":26,"amor":69.28,"pv2":46.98,"pv1":24.9},
{"t":27,"amor":70.01,"pv2":48.01,"pv1":24.6},
{"t":28,"amor":70.88,"pv2":49.03,"pv1":24.45},
{"t":29,"amor":71.64,"pv2":49.83,"pv1":24.41},
{"t":29.6,"amor":71.79,"pv2":50.0,"pv1":24.39},
{"t":30.5,"amor":71.42,"pv2":49.66,"pv1":24.36},
{"t":31.5,"amor":70.55,"pv2":48.8,"pv1":24.35},
{"t":32.5,"amor":69.45,"pv2":47.72,"pv1":24.33},
{"t":33.5,"amor":68.41,"pv2":46.69,"pv1":24.32},
{"t":34.5,"amor":67.55,"pv2":45.84,"pv1":24.31},
{"t":35.5,"amor":66.97,"pv2":45.27,"pv1":24.31},
{"t":36.5,"amor":66.57,"pv2":44.87,"pv1":24.3},
{"t":37.5,"amor":66.37,"pv2":44.67,"pv1":24.3},
{"t":38.5,"amor":66.26,"pv2":44.56,"pv1":24.3},
{"t":40,"amor":66.17,"pv2":44.47,"pv1":24.3},
{"t":43,"amor":66.09,"pv2":44.39,"pv1":24.3},
{"t":47,"amor":66.05,"pv2":44.35,"pv1":24.3},
{"t":55,"amor":66.02,"pv2":44.32,"pv1":24.3},
{"t":70,"amor":66.0,"pv2":44.3,"pv1":24.3}
 ],
 "a_bg": [{"t":10,"bg":126.7},{"t":70,"bg":120.7}],
 "b_bg": [{"t":10,"bg":126.7},{"t":70,"bg":121.7}],
 "a_lab": [
  {"t":70,"y":90,"label":"Total Crystalline Portion"},
  {"t":70,"y":65,"label":"Total Amorphous Portion"},
  {"t":70,"y":42.7,"label":"PV Fit-2 (Reaction product)"},
  {"t":70,"y":24.4,"label":"PV Fit-1 (Glassy Content)"},
  {"t":70,"y":5.7,"label":"Difference plot"}
 ],
 "b_lab": [
  {"t":70,"y":94,"label":"Total Crystalline Portion"},
  {"t":70,"y":65.7,"label":"Total Amorphous Portion"},
  {"t":70,"y":45,"label":"PV Fit-2 (Reaction product)"},
  {"t":70,"y":25.7,"label":"PV Fit-1 (Glassy Content)"},
  {"t":70,"y":7.3,"label":"Difference plot"}
 ]
},
"vconcat": [
 {
  "width": 420, "height": 282,
  "title": {"text": "(a)", "anchor": "start", "frame": "group", "offset": -18, "baseline": "top", "dx": -10, "dy": 0},
  "encoding": {"x": {"field": "t", "type": "quantitative", "scale": {"domain": [10,70], "nice": false, "zero": false}, "axis": {"title": "°2θ (CuKα)", "values": [10,20,30,40,50,60,70]}}},
  "layer": [
   {"data": {"name": "a_bg"}, "mark": {"type": "line", "color": "#a6a6a6", "strokeWidth": 1.6}, "encoding": {"y": {"field": "bg", "type": "quantitative", "scale": {"domain": [0,282]}, "axis": null}}},
   {"data": {"name": "a_main"}, "mark": {"type": "line", "strokeWidth": 1.2},
    "encoding": {"y": {"field": "obs", "type": "quantitative", "scale": {"domain": [0,282]}, "axis": null},
     "color": {"datum": "Observed diffractogram", "scale": {"domain": ["Observed diffractogram","Calculated diffractogram"], "range": ["#000000","#808080"]},
      "legend": {"title": null, "orient": "none", "legendX": 192, "legendY": 48, "symbolType": "stroke", "symbolSize": 289, "symbolStrokeWidth": 1.5, "labelFontSize": 13, "labelFont": "Liberation Sans", "labelOffset": 0, "rowPadding": 1, "labelLimit": 300, "labelColor": {"expr": "datum.label == 'Calculated diffractogram' ? '#808080' : '#000000'"}}},
     "strokeDash": {"datum": "Observed diffractogram", "scale": {"domain": ["Observed diffractogram","Calculated diffractogram"], "range": [[1,0],[4,2]]},
      "legend": {"title": null, "orient": "none", "legendX": 192, "legendY": 48, "symbolType": "stroke", "symbolSize": 289, "symbolStrokeWidth": 1.5, "labelFontSize": 13, "labelFont": "Liberation Sans", "labelOffset": 0, "rowPadding": 1, "labelLimit": 300, "labelColor": {"expr": "datum.label == 'Calculated diffractogram' ? '#808080' : '#000000'"}}}}},
   {"data": {"name": "a_main"}, "mark": {"type": "line", "strokeWidth": 1.2},
    "encoding": {"y": {"field": "calc", "type": "quantitative", "scale": {"domain": [0,282]}, "axis": null},
     "color": {"datum": "Calculated diffractogram"},
     "strokeDash": {"datum": "Calculated diffractogram"}}},
   {"data": {"name": "a_main"}, "mark": {"type": "line", "color": "#000000", "strokeWidth": 1.2}, "encoding": {"y": {"field": "cryst", "type": "quantitative", "scale": {"domain": [0,282]}, "axis": null}}},
   {"data": {"name": "a_main"}, "mark": {"type": "line", "color": "#909090", "strokeWidth": 1.2}, "encoding": {"y": {"field": "diff", "type": "quantitative", "scale": {"domain": [0,282]}, "axis": null}}},
   {"data": {"name": "a_am"}, "mark": {"type": "line", "color": "#000000", "strokeWidth": 1.2, "interpolate": "monotone"}, "encoding": {"y": {"field": "amor", "type": "quantitative", "scale": {"domain": [0,282]}, "axis": null}}},
   {"data": {"name": "a_am"}, "mark": {"type": "line", "color": "#000000", "strokeWidth": 1.2, "interpolate": "monotone"}, "encoding": {"y": {"field": "pv2", "type": "quantitative", "scale": {"domain": [0,282]}, "axis": null}}},
   {"data": {"name": "a_am"}, "mark": {"type": "line", "color": "#000000", "strokeWidth": 1.2, "interpolate": "monotone"}, "encoding": {"y": {"field": "pv1", "type": "quantitative", "scale": {"domain": [0,282]}, "axis": null}}},
   {"data": {"name": "a_lab"}, "mark": {"type": "text", "align": "left", "baseline": "middle", "fontSize": 13, "font": "Liberation Sans", "color": "#000000"}, "encoding": {"y": {"field": "y", "type": "quantitative", "scale": {"domain": [0,282]}, "axis": null}, "text": {"field": "label"}}}
  ]
 },
 {
  "width": 424, "height": 296,
  "title": {"text": "(b)", "anchor": "start", "frame": "group", "offset": 0, "baseline": "top", "dx": -12, "dy": 0},
  "encoding": {"x": {"field": "t", "type": "quantitative", "scale": {"domain": [10,70], "nice": false, "zero": false}, "axis": {"title": "°2θ (CuKα)", "values": [10,20,30,40,50,60,70]}}},
  "layer": [
   {"data": {"name": "b_bg"}, "mark": {"type": "line", "color": "#a6a6a6", "strokeWidth": 1.6}, "encoding": {"y": {"field": "bg", "type": "quantitative", "scale": {"domain": [0,296]}, "axis": null}}},
   {"data": {"name": "b_main"}, "mark": {"type": "line", "strokeWidth": 1.2},
    "encoding": {"y": {"field": "obs", "type": "quantitative", "scale": {"domain": [0,296]}, "axis": null},
     "color": {"datum": "Observed diffractogram", "scale": {"domain": ["Observed diffractogram","Calculated diffractogram"], "range": ["#000000","#808080"]},
      "legend": {"title": null, "orient": "none", "legendX": 179, "legendY": 55, "symbolType": "stroke", "symbolSize": 289, "symbolStrokeWidth": 1.5, "labelFontSize": 13, "labelFont": "Liberation Sans", "labelOffset": 0, "rowPadding": 1, "labelLimit": 300, "labelColor": {"expr": "datum.label == 'Calculated diffractogram' ? '#808080' : '#000000'"}}},
     "strokeDash": {"datum": "Observed diffractogram", "scale": {"domain": ["Observed diffractogram","Calculated diffractogram"], "range": [[1,0],[4,2]]},
      "legend": {"title": null, "orient": "none", "legendX": 179, "legendY": 55, "symbolType": "stroke", "symbolSize": 289, "symbolStrokeWidth": 1.5, "labelFontSize": 13, "labelFont": "Liberation Sans", "labelOffset": 0, "rowPadding": 1, "labelLimit": 300, "labelColor": {"expr": "datum.label == 'Calculated diffractogram' ? '#808080' : '#000000'"}}}}},
   {"data": {"name": "b_main"}, "mark": {"type": "line", "strokeWidth": 1.2},
    "encoding": {"y": {"field": "calc", "type": "quantitative", "scale": {"domain": [0,296]}, "axis": null},
     "color": {"datum": "Calculated diffractogram"},
     "strokeDash": {"datum": "Calculated diffractogram"}}},
   {"data": {"name": "b_main"}, "mark": {"type": "line", "color": "#000000", "strokeWidth": 1.2}, "encoding": {"y": {"field": "cryst", "type": "quantitative", "scale": {"domain": [0,296]}, "axis": null}}},
   {"data": {"name": "b_main"}, "mark": {"type": "line", "color": "#909090", "strokeWidth": 1.2}, "encoding": {"y": {"field": "diff", "type": "quantitative", "scale": {"domain": [0,296]}, "axis": null}}},
   {"data": {"name": "b_am"}, "mark": {"type": "line", "color": "#000000", "strokeWidth": 1.2, "interpolate": "monotone"}, "encoding": {"y": {"field": "amor", "type": "quantitative", "scale": {"domain": [0,296]}, "axis": null}}},
   {"data": {"name": "b_am"}, "mark": {"type": "line", "color": "#000000", "strokeWidth": 1.2, "interpolate": "monotone"}, "encoding": {"y": {"field": "pv2", "type": "quantitative", "scale": {"domain": [0,296]}, "axis": null}}},
   {"data": {"name": "b_am"}, "mark": {"type": "line", "color": "#000000", "strokeWidth": 1.2, "interpolate": "monotone"}, "encoding": {"y": {"field": "pv1", "type": "quantitative", "scale": {"domain": [0,296]}, "axis": null}}},
   {"data": {"name": "b_lab"}, "mark": {"type": "text", "align": "left", "baseline": "middle", "fontSize": 13, "font": "Liberation Sans", "color": "#000000"}, "encoding": {"y": {"field": "y", "type": "quantitative", "scale": {"domain": [0,296]}, "axis": null}, "text": {"field": "label"}}}
  ]
 }
]
}
